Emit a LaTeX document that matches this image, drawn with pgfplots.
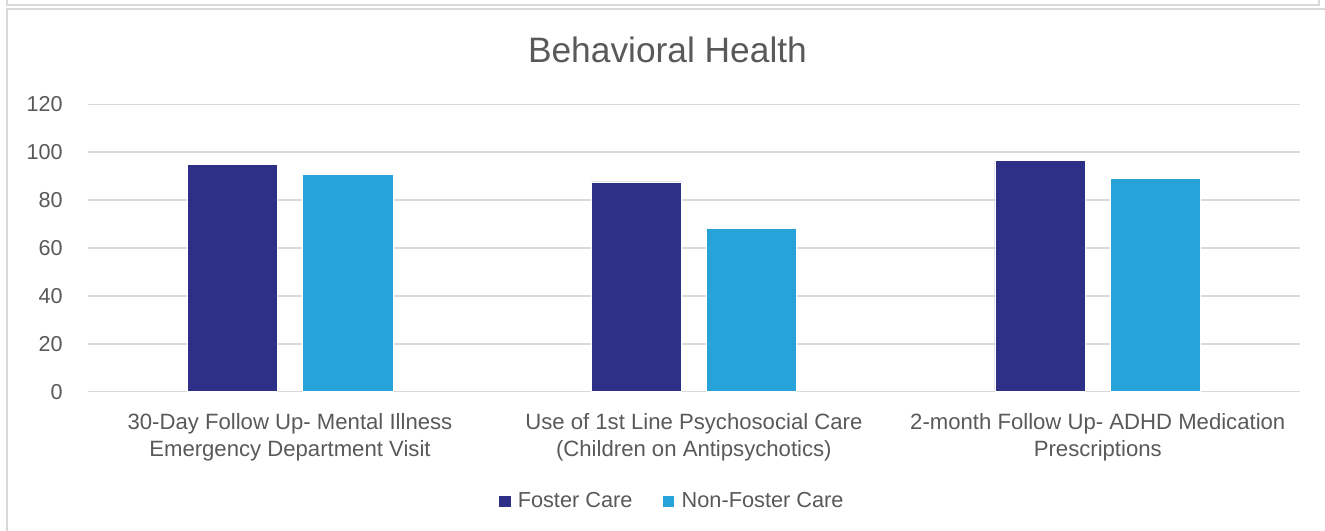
\documentclass[border=0pt]{standalone}
\usepackage{pgfplots}
\pgfplotsset{compat=1.18}
\usepackage{fontspec}
\setmainfont{Liberation Sans}
\definecolor{foster}{HTML}{2E3088}
\definecolor{nonfoster}{HTML}{28A3D9}
\definecolor{txt}{HTML}{595959}
\definecolor{gridc}{HTML}{D9D9D9}
\begin{document}
\begin{tikzpicture}
\useasboundingbox (0pt,0pt) rectangle (993.75pt,398.25pt);
% frames
\draw[gridc, line width=1.2pt] (5.25pt,398.25pt) -- (5.25pt,394.5pt) -- (989.25pt,394.5pt) -- (989.25pt,398.25pt);
\draw[gridc, line width=1.2pt] (993.75pt,391.5pt) -- (5.25pt,391.5pt) -- (5.25pt,0pt);
\node[text=txt, font=\fontsize{26.5}{30}\selectfont] at (500.6pt,360.75pt) {Behavioral Health};
\begin{axis}[
  at={(66pt,104.5pt)}, anchor=south west,
  scale only axis, width=908.8pt, height=215.5pt,
  xmin=-0.5, xmax=2.5, ymin=0, ymax=120,
  ytick={0,20,40,60,80,100,120},
  xtick={0,1,2},
  xticklabels={{30-Day Follow Up- Mental Illness\\Emergency Department Visit},{Use of 1st Line Psychosocial Care\\(Children on Antipsychotics)},{2-month Follow Up- ADHD Medication\\Prescriptions}},
  axis line style={draw=none},
  major tick length=0pt,
  ymajorgrids, grid style={gridc, line width=1.1pt},
  yticklabel style={text=txt, font=\fontsize{16.2}{19}\selectfont, inner sep=0pt, xshift=-18.75pt},
  xticklabel style={text=txt, font=\fontsize{16.6}{20.25}\selectfont, align=center, inner sep=0pt, yshift=-16pt},
  /pgf/number format/assume math mode=true,
  legend style={at={(0.482,-0.381)}, anchor=center, draw=none, fill=none,
    font=\fontsize{16.3}{19}\selectfont, text=txt, legend columns=2,
    /tikz/every even column/.append style={column sep=20pt},
    legend cell align=left},
  legend image code/.code={\fill[#1] (0pt,-4.75pt) rectangle (9.5pt,4.75pt); \path (12.5pt,0pt);},
]
\addplot[ybar, bar width=0.2243, bar shift=-0.1424, fill=foster, draw=white, line width=0.4pt] coordinates {(0,94.9) (1,87.6) (2,96.5)};
\addplot[ybar, bar width=0.2243, bar shift=0.1424, fill=nonfoster, draw=white, line width=0.4pt] coordinates {(0,90.8) (1,68.2) (2,89.2)};
\legend{Foster Care, Non-Foster Care}
\end{axis}
\end{tikzpicture}
\end{document}
